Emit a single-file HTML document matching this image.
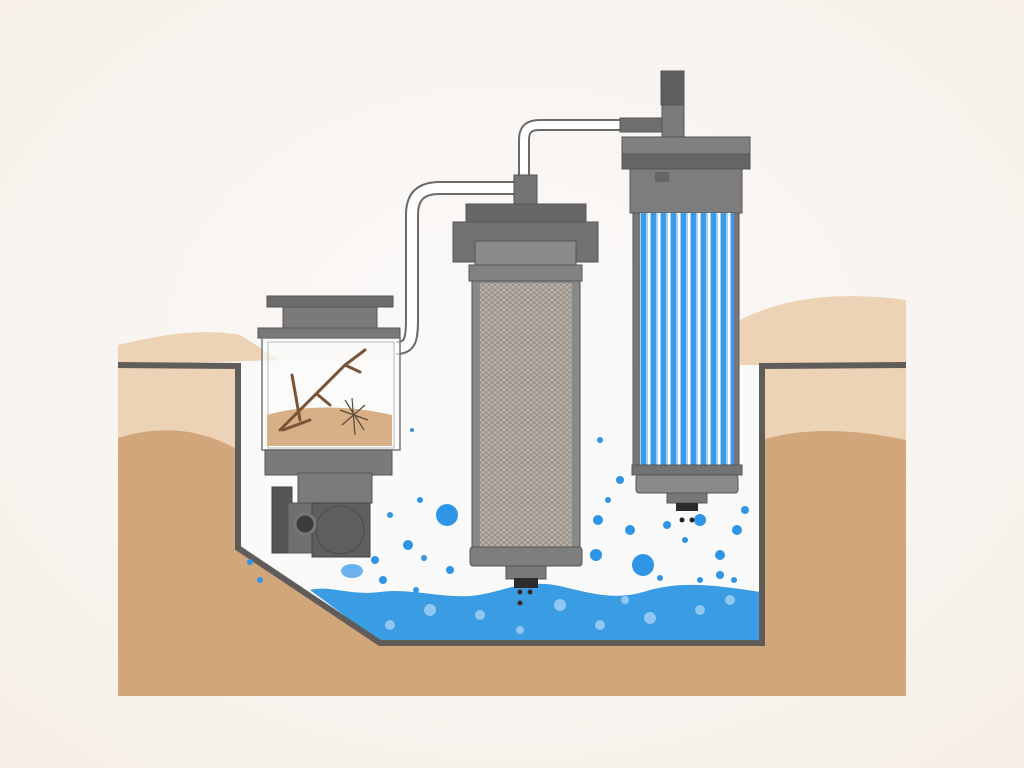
<!DOCTYPE html>
<html><head><meta charset="utf-8"><style>html,body{margin:0;padding:0;background:#f8f6f3}svg{display:block}</style></head>
<body>
<svg width="1024" height="768" viewBox="0 0 1024 768" xmlns="http://www.w3.org/2000/svg">
<defs>
<radialGradient id="bg" cx="50%" cy="45%" r="70%"><stop offset="0" stop-color="#fbfafa"/><stop offset="1" stop-color="#f6efe8"/></radialGradient>
<pattern id="mesh" width="6" height="5" patternUnits="userSpaceOnUse"><rect width="6" height="5" fill="#b9b1a8"/><path d="M0 2.5L3 0L6 2.5L3 5Z" fill="none" stroke="#8e867e" stroke-width="0.8"/></pattern>
<pattern id="stripes" width="10" height="10" patternUnits="userSpaceOnUse"><rect width="10" height="10" fill="#9fd0f5"/><rect x="1" width="5" height="10" fill="#3d9ae6"/><rect x="8" width="2" height="10" fill="#ffffff"/></pattern>
</defs>
<rect width="1024" height="768" fill="url(#bg)"/>
<!-- ground light -->
<path d="M118 345 C160 335 200 328 240 335 L280 360 L118 365Z" fill="#ecd3b5"/>
<path d="M740 320 C780 300 830 290 906 300 L906 365 L740 365Z" fill="#ecd3b5"/>
<rect x="118" y="365" width="120" height="331" fill="#ecd3b5"/>
<rect x="762" y="365" width="144" height="331" fill="#ecd3b5"/>
<path d="M118 438 C160 425 200 428 238 450 L238 696 L118 696Z" fill="#d2a67b"/>
<path d="M762 440 C800 428 850 428 906 440 L906 696 L762 696Z" fill="#d2a67b"/>
<path d="M238 548 L380 645 L762 645 L762 696 L238 696Z" fill="#d2a67b"/>
<!-- pit interior -->
<path d="M238 366 L238 548 L380 643 L762 643 L762 366Z" fill="#fafafa"/>
<!-- water -->
<path d="M310 590 C330 585 350 596 380 592 C410 588 440 598 470 596 C500 594 520 578 560 586 C600 596 620 600 650 590 C680 582 710 584 760 592 L760 642 L380 642 Z" fill="#3a9de3"/>
<g fill="#8fc6f2">
<circle cx="430" cy="610" r="6"/><circle cx="480" cy="615" r="5"/><circle cx="560" cy="605" r="6"/><circle cx="600" cy="625" r="5"/><circle cx="650" cy="618" r="6"/><circle cx="700" cy="610" r="5"/><circle cx="730" cy="600" r="5"/><circle cx="390" cy="625" r="5"/><circle cx="520" cy="630" r="4"/><circle cx="625" cy="600" r="4"/>
</g>
<!-- pit outline -->
<path d="M118 365 L238 366 L238 548 L380 643 L762 643 L762 366 L906 365" fill="none" stroke="#5f5c5a" stroke-width="6" stroke-linejoin="miter"/>
<!-- bubbles -->
<g fill="#2f95e6">
<circle cx="447" cy="515" r="11"/><circle cx="643" cy="565" r="11"/><circle cx="408" cy="545" r="5"/><circle cx="390" cy="515" r="3"/><circle cx="450" cy="570" r="4"/><circle cx="598" cy="520" r="5"/><circle cx="596" cy="555" r="6"/><circle cx="630" cy="530" r="5"/><circle cx="620" cy="480" r="4"/><circle cx="700" cy="520" r="6"/><circle cx="720" cy="555" r="5"/><circle cx="720" cy="575" r="4"/><circle cx="737" cy="530" r="5"/><circle cx="745" cy="510" r="4"/><circle cx="685" cy="540" r="3"/><circle cx="667" cy="525" r="4"/><circle cx="608" cy="500" r="3"/><circle cx="600" cy="440" r="3"/><circle cx="375" cy="560" r="4"/><circle cx="383" cy="580" r="4"/><circle cx="424" cy="558" r="3"/><circle cx="416" cy="590" r="3"/><circle cx="660" cy="578" r="3"/><circle cx="734" cy="580" r="3"/><circle cx="700" cy="580" r="3"/><circle cx="250" cy="562" r="3"/><circle cx="260" cy="580" r="3"/><circle cx="412" cy="430" r="2"/><circle cx="420" cy="500" r="3"/>
</g>
<ellipse cx="352" cy="571" rx="11" ry="7" fill="#6bb3ee"/>
<!-- pipes -->
<path d="M396 348 C410 348 412 340 412 320 L412 215 C412 195 422 188 440 188 L520 188" fill="none" stroke="#6a6a6a" stroke-width="14"/>
<path d="M396 348 C410 348 412 340 412 320 L412 215 C412 195 422 188 440 188 L520 188" fill="none" stroke="#ffffff" stroke-width="10"/>
<path d="M524 178 L524 140 C524 128 530 125 540 125 L640 125" fill="none" stroke="#6a6a6a" stroke-width="12"/>
<path d="M524 178 L524 140 C524 128 530 125 540 125 L640 125" fill="none" stroke="#ffffff" stroke-width="8"/>
<rect x="620" y="118" width="42" height="14" fill="#6f6f6f" stroke="#555"/>
<!-- left container -->
<rect x="267" y="296" width="126" height="11" fill="#6b6b6b" stroke="#555"/>
<rect x="283" y="307" width="94" height="22" fill="#7b7a7b" stroke="#555"/>
<rect x="258" y="328" width="142" height="10" fill="#7a797a" stroke="#555"/>
<rect x="262" y="338" width="138" height="112" fill="#fbfbfb" fill-opacity="0.7" stroke="#777" stroke-width="1.5"/>
<rect x="268" y="342" width="126" height="106" fill="none" stroke="#bbb"/>
<path d="M267 415 C300 405 350 405 392 415 L392 446 L267 446Z" fill="#d8b088"/>
<g stroke="#7a5438" stroke-width="3" fill="none" stroke-linecap="round">
<path d="M280 430 L345 365 L365 350"/><path d="M345 365 L360 372"/><path d="M292 375 L300 420"/><path d="M318 395 L330 405"/><path d="M283 430 L310 420"/>
</g>
<g stroke="#5a4a3a" stroke-width="1.2"><path d="M340 410 L368 420 M352 398 L355 435 M342 425 L365 405 M345 400 L364 430"/></g>
<rect x="265" y="450" width="127" height="25" fill="#7b7a7b" stroke="#555"/>
<rect x="298" y="473" width="74" height="30" fill="#7c7b7c" stroke="#555"/>
<rect x="272" y="487" width="20" height="66" fill="#555" stroke="#444"/>
<rect x="288" y="503" width="30" height="50" fill="#6f6f70" stroke="#555"/>
<rect x="312" y="503" width="58" height="54" fill="#5e5e60" stroke="#444"/>
<circle cx="340" cy="530" r="24" fill="none" stroke="#4a4a4a"/>
<circle cx="305" cy="524" r="10" fill="#3c3c3c" stroke="#777" stroke-width="3"/>
<!-- middle filter -->
<rect x="514" y="175" width="23" height="30" fill="#757475" stroke="#555"/>
<rect x="466" y="204" width="120" height="18" fill="#686768" stroke="#555"/>
<rect x="453" y="222" width="145" height="40" fill="#727172" stroke="#555"/>
<rect x="475" y="241" width="101" height="25" fill="#8b8a8b" stroke="#555"/>
<rect x="469" y="265" width="113" height="16" fill="#838283" stroke="#555"/>
<rect x="472" y="281" width="108" height="268" fill="#8a898a" stroke="#555"/>
<rect x="480" y="283" width="92" height="264" fill="url(#mesh)"/>
<rect x="470" y="547" width="112" height="19" rx="3" fill="#7f7e7f" stroke="#555"/>
<rect x="506" y="566" width="40" height="13" fill="#7a797a" stroke="#555"/>
<rect x="514" y="578" width="24" height="10" fill="#2d2b2c"/>
<circle cx="520" cy="592" r="2.5" fill="#3a2a22"/><circle cx="530" cy="592" r="2.5" fill="#3a2a22"/><circle cx="520" cy="603" r="2.5" fill="#3a2a22"/>
<!-- right filter -->
<rect x="661" y="71" width="23" height="34" fill="#5f5e5f" stroke="#555"/>
<rect x="662" y="105" width="22" height="35" fill="#7c7b7c" stroke="#555"/>
<rect x="622" y="137" width="128" height="17" fill="#808080" stroke="#555"/>
<rect x="622" y="154" width="128" height="15" fill="#666566" stroke="#555"/>
<rect x="630" y="169" width="112" height="44" fill="#7e7d7e" stroke="#555"/>
<rect x="655" y="172" width="14" height="10" fill="#666"/>
<rect x="633" y="213" width="106" height="253" fill="#777" stroke="#555"/>
<rect x="640" y="213" width="94" height="253" fill="url(#stripes)"/>
<rect x="632" y="465" width="110" height="10" fill="#747374" stroke="#555"/>
<rect x="636" y="475" width="102" height="18" rx="3" fill="#8b8a8b" stroke="#555"/>
<rect x="667" y="493" width="40" height="10" fill="#787778" stroke="#555"/>
<rect x="676" y="503" width="22" height="8" fill="#2d2b2c"/>
<circle cx="682" cy="520" r="2.5" fill="#222"/><circle cx="692" cy="520" r="2.5" fill="#222"/>
</svg>
</body></html>
